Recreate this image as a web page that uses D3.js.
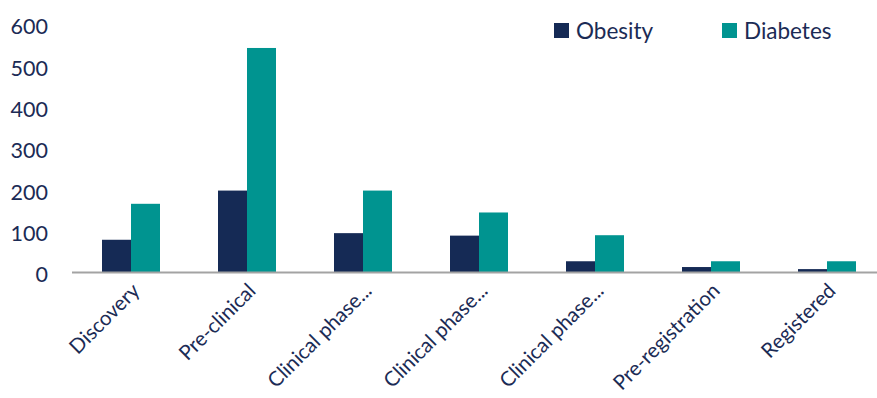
<!DOCTYPE html>
<html>
<head>
<meta charset="utf-8">
<script src="https://cdn.jsdelivr.net/npm/d3@7"></script>
<style>
  body { margin: 0; background: #fff; }
  svg text { font-family: Lato, "Open Sans", sans-serif; fill: #1b2b55; }
</style>
</head>
<body>
<div id="chart"></div>
<script>
// Pipeline counts by development stage
const categories = ["Discovery", "Pre-clinical", "Clinical phase...", "Clinical phase...",
                    "Clinical phase...", "Pre-registration", "Registered"];
const seriesNames = ["Obesity", "Diabetes"];
const obesity = [78, 197, 94, 88, 26, 12, 7];
const diabetes = [165, 542, 197, 144, 89, 26, 26];
const yTicks = [0, 100, 200, 300, 400, 500, 600];

const colors = { Obesity: "#152a55", Diabetes: "#009490" };

const width = 877, height = 398;
const margin = { top: 24, right: -8, bottom: 126, left: 73 };

const svg = d3.select("#chart").append("svg")
    .attr("width", width)
    .attr("height", height);

const idx = d3.range(categories.length);

const x = d3.scaleBand()
    .domain(idx)
    .range([margin.left, width - margin.right])
    .paddingInner(0.5)
    .paddingOuter(0.25);

const xs = d3.scaleBand()
    .domain(seriesNames)
    .range([0, x.bandwidth()]);

const y = d3.scaleLinear()
    .domain([0, 600])
    .range([height - margin.bottom, margin.top]);

const rows = idx.map(i => ({ i, Obesity: obesity[i], Diabetes: diabetes[i] }));

// Bars
const groups = svg.selectAll(".grp")
    .data(rows)
    .enter().append("g")
    .attr("class", "grp")
    .attr("transform", d => `translate(${x(d.i)},0)`);

groups.selectAll("rect")
    .data(d => seriesNames.map(s => ({ s, v: d[s] })))
    .enter().append("rect")
    .attr("x", d => xs(d.s))
    .attr("y", d => y(d.v))
    .attr("width", xs.bandwidth())
    .attr("height", d => y(0) - y(d.v))
    .attr("fill", d => colors[d.s]);

// Y axis (labels only)
svg.append("g")
    .attr("transform", `translate(48,0)`)
    .call(d3.axisLeft(y).tickValues(yTicks).tickSize(0).tickPadding(0))
    .call(g => g.select(".domain").remove())
    .call(g => g.selectAll("text")
        .attr("font-size", 21.5)
        .attr("dy", "0.45em")
        .style("font-family", "Lato, 'Open Sans', sans-serif")
        .attr("fill", "#1b2b55"));

// X axis
const xAxis = svg.append("g")
    .attr("transform", `translate(0,${y(0)})`)
    .call(d3.axisBottom(x).tickSize(0).tickSizeOuter(0).tickFormat(i => categories[i]))
    .call(g => g.select(".domain")
        .attr("stroke", "#a3a3a3")
        .attr("stroke-width", 2)
        .attr("d", `M${margin.left - 1},0.5H${width}`));

xAxis.selectAll("text")
    .attr("font-size", 20.5)
    .attr("fill", "#1b2b55")
    .style("font-family", "Lato, 'Open Sans', sans-serif")
    .attr("text-anchor", "end")
    .attr("dy", null)
    .attr("y", 0)
    .attr("transform", "translate(10,20) rotate(-45)");

// Legend
const legendX = [554, 722];
const legend = svg.selectAll(".leg")
    .data(seriesNames)
    .enter().append("g")
    .attr("class", "leg")
    .attr("transform", (d, i) => `translate(${legendX[i]},23)`);

legend.append("rect")
    .attr("width", 15)
    .attr("height", 15)
    .attr("fill", d => colors[d]);

legend.append("text")
    .attr("x", 22)
    .attr("y", 15.5)
    .attr("font-size", 22.5)
    .text(d => d);
</script>
</body>
</html>
